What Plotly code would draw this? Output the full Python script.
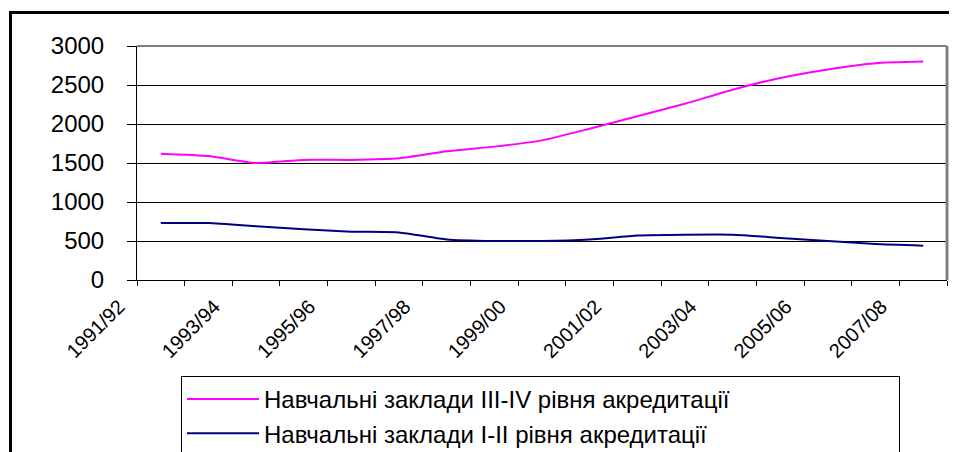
import plotly.graph_objects as go

years = ["1991/92", "1992/93", "1993/94", "1994/95", "1995/96", "1996/97",
         "1997/98", "1998/99", "1999/00", "2000/01", "2001/02", "2002/03",
         "2003/04", "2004/05", "2005/06", "2006/07", "2007/08"]
level_3_4 = [1620, 1590, 1500, 1540, 1540, 1560, 1650, 1710, 1790, 1940,
             2100, 2260, 2440, 2590, 2700, 2780, 2800]
level_1_2 = [730, 730, 690, 650, 620, 610, 520, 500, 500, 520,
             570, 580, 580, 540, 500, 460, 440]
series_names = ["Навчальні заклади III-IV рівня акредитації",
                "Навчальні заклади I-II рівня акредитації"]
y_ticks = [0, 500, 1000, 1500, 2000, 2500, 3000]

FONT = "Liberation Sans, Arial, sans-serif"

fig = go.Figure()
fig.add_trace(go.Scatter(x=years, y=level_3_4, name=series_names[0], mode="lines",
                         line=dict(color="#FF00FF", width=2, shape="spline", smoothing=0.5)))
fig.add_trace(go.Scatter(x=years, y=level_1_2, name=series_names[1], mode="lines",
                         line=dict(color="#000080", width=2, shape="spline", smoothing=0.5)))

n = len(years)
tickvals = [i - 0.5 for i in range(n + 1)]
ticktext = [years[i] if (i < n and i % 2 == 0) else "" for i in range(n + 1)]

# page has an 8px body margin; figure sized so the plot area lands where the reference has it
fig.update_layout(
    width=949, height=444,
    margin=dict(l=129, r=10, t=38, b=172, autoexpand=False),
    paper_bgcolor="white", plot_bgcolor="white",
    font=dict(family=FONT, color="black"),
    xaxis=dict(type="category", range=[-0.5, n - 0.5], tickmode="array",
               tickvals=tickvals, ticktext=ticktext, tickangle=-45,
               ticks="outside", ticklen=5, tickcolor="black", tickwidth=1,
               ticklabelshift=-18, ticklabelstandoff=1,
               showline=True, linecolor="black", linewidth=1,
               showgrid=False, zeroline=False, tickfont=dict(size=20)),
    yaxis=dict(range=[0, 3000], tickvals=y_ticks, ticks="outside", ticklen=9,
               tickcolor="black", tickwidth=1, showline=True, linecolor="black",
               linewidth=1, showgrid=True, gridcolor="black", gridwidth=1,
               ticklabelstandoff=18,
               zeroline=False, tickfont=dict(size=24)),
    legend=dict(x=(181 - 137) / 810, y=(280 - 376) / 234, xanchor="left", yanchor="top",
                orientation="h", bordercolor="black", borderwidth=1, bgcolor="white",
                font=dict(size=24), itemwidth=72, tracegroupgap=0,
                entrywidth=630, entrywidthmode="pixels"),
    shapes=[
        dict(type="line", xref="paper", yref="paper", x0=0, x1=1, y0=1, y1=1,
             line=dict(color="#808080", width=2), layer="above"),
        dict(type="line", xref="paper", yref="paper", x0=1, x1=1, y0=0, y1=1,
             line=dict(color="#808080", width=3), layer="above"),
        dict(type="line", xref="paper", yref="paper", x0=(10.5 - 137) / 810, x1=(10.5 - 137) / 810,
             y0=(280 - 460) / 234, y1=(280 - 12.5) / 234, line=dict(color="black", width=3)),
        dict(type="line", xref="paper", yref="paper", x0=(9 - 137) / 810, x1=(965 - 137) / 810,
             y0=(280 - 12.5) / 234, y1=(280 - 12.5) / 234, line=dict(color="black", width=3)),
    ],
)

fig.write_html("out.html")
